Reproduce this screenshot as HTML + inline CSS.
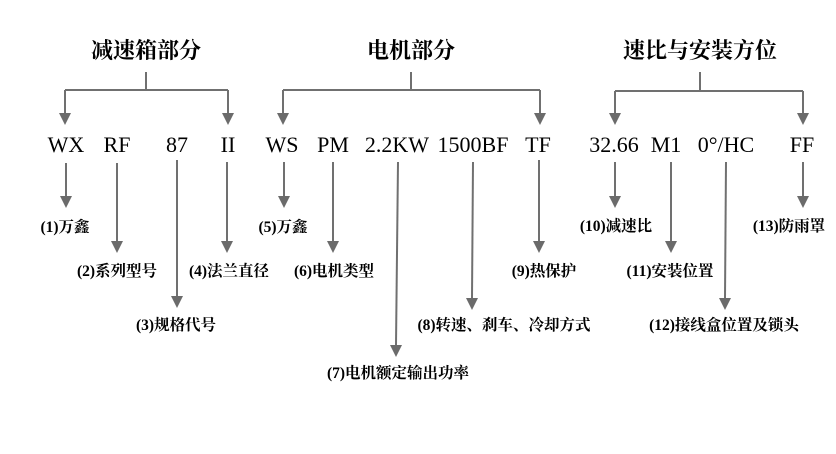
<!DOCTYPE html>
<html><head><meta charset="utf-8"><style>
html,body{margin:0;padding:0;background:#fff;}
svg{display:block;}
.t{font-family:"Liberation Serif","Noto Serif CJK SC",serif;font-weight:bold;font-size:22px;fill:#000;}
.c{font-family:"Liberation Serif","Noto Serif CJK SC",serif;font-size:22px;fill:#000;}
.l{font-family:"Liberation Serif","Noto Serif CJK SC",serif;font-weight:bold;font-size:15.5px;fill:#000;}
</style></head><body>
<svg width="836" height="454" viewBox="0 0 836 454" xmlns="http://www.w3.org/2000/svg">
<g stroke="#707070" stroke-width="2" fill="none">
<path d="M146,72 V90"/><path d="M65,90 H228"/>
<path d="M65,90 V113"/><path d="M228,90 V113"/>
<path d="M411,72 V90"/><path d="M283,90 H540"/>
<path d="M283,90 V113"/><path d="M540,90 V113"/>
<path d="M700,72 V91"/><path d="M615,91 H803"/>
<path d="M615,91 V113"/><path d="M803,91 V113"/>
<path d="M66,163 V196"/><path d="M117,163 V241"/><path d="M177,160 V296"/><path d="M227,162 V241"/>
<path d="M284,162 V196"/><path d="M333,162 V241"/><path d="M398,162 L396,345"/><path d="M473,162 L472,298"/>
<path d="M539,160 V241"/><path d="M615,162 V196"/><path d="M671,162 V241"/><path d="M726,162 L725,298"/><path d="M803,162 V196"/>
</g>
<g fill="#6b6b6b">
<path d="M59,113 h12 l-6,12z"/><path d="M222,113 h12 l-6,12z"/>
<path d="M277,113 h12 l-6,12z"/><path d="M534,113 h12 l-6,12z"/>
<path d="M609,113 h12 l-6,12z"/><path d="M797,113 h12 l-6,12z"/>
<path d="M60,196 h12 l-6,12z"/><path d="M111,241 h12 l-6,12z"/><path d="M171,296 h12 l-6,12z"/><path d="M221,241 h12 l-6,12z"/>
<path d="M278,196 h12 l-6,12z"/><path d="M327,241 h12 l-6,12z"/><path d="M390,345 h12 l-6,12z"/><path d="M466,298 h12 l-6,12z"/>
<path d="M533,241 h12 l-6,12z"/><path d="M609,196 h12 l-6,12z"/><path d="M665,241 h12 l-6,12z"/><path d="M719,298 h12 l-6,12z"/><path d="M797,196 h12 l-6,12z"/>
</g>
<g text-anchor="middle">
<text class="t" x="146" y="58">减速箱部分</text>
<text class="t" x="411" y="58">电机部分</text>
<text class="t" x="700" y="58">速比与安装方位</text>
<text class="c" x="66" y="152">WX</text>
<text class="c" x="117" y="152">RF</text>
<text class="c" x="177" y="152">87</text>
<text class="c" x="228" y="152">II</text>
<text class="c" x="282" y="152">WS</text>
<text class="c" x="333" y="152">PM</text>
<text class="c" x="397" y="152">2.2KW</text>
<text class="c" x="473" y="152">1500BF</text>
<text class="c" x="538" y="152">TF</text>
<text class="c" x="614" y="152">32.66</text>
<text class="c" x="666" y="152">M1</text>
<text class="c" x="726" y="152">0°/HC</text>
<text class="c" x="802" y="152">FF</text>
<text class="l" x="65" y="232">(1)万鑫</text>
<text class="l" x="117" y="276">(2)系列型号</text>
<text class="l" x="176" y="330">(3)规格代号</text>
<text class="l" x="229" y="276">(4)法兰直径</text>
<text class="l" x="283" y="232">(5)万鑫</text>
<text class="l" x="334" y="276">(6)电机类型</text>
<text class="l" x="398" y="378">(7)电机额定输出功率</text>
<text class="l" x="504" y="330">(8)转速、刹车、冷却方式</text>
<text class="l" x="544" y="276">(9)热保护</text>
<text class="l" x="616" y="231">(10)减速比</text>
<text class="l" x="670" y="276">(11)安装位置</text>
<text class="l" x="724" y="330">(12)接线盒位置及锁头</text>
<text class="l" x="789" y="231">(13)防雨罩</text>
</g>
</svg>
</body></html>
